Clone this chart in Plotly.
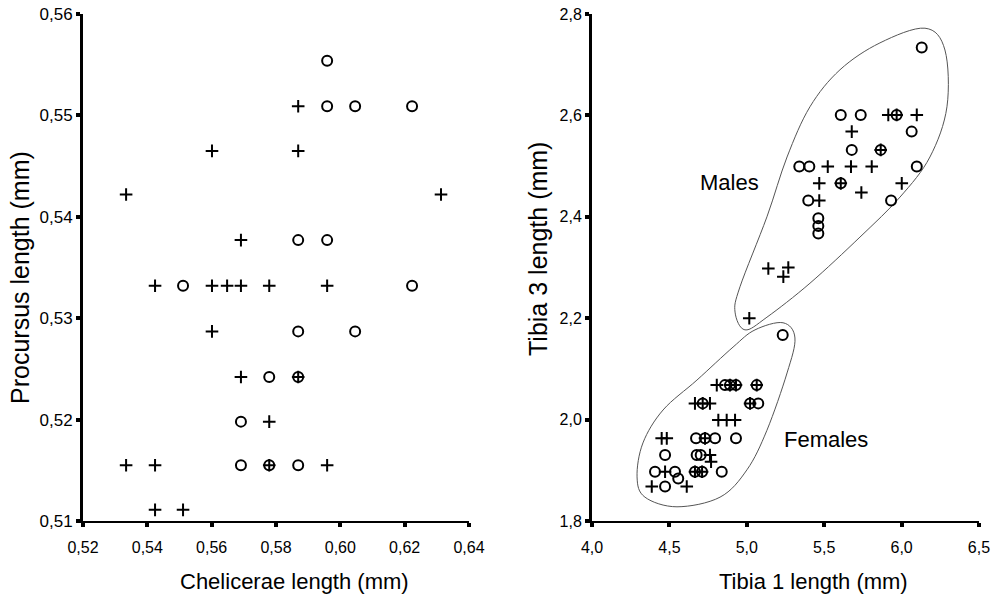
import plotly.graph_objects as go
from plotly.subplots import make_subplots

# ---------------- Left panel: Chelicerae vs Procursus ----------------
chel_circle = [0.5959, 0.5959, 0.6046, 0.6223, 0.5869, 0.5959, 0.5511, 0.6223,
               0.5869, 0.6046, 0.5779, 0.5869, 0.5691, 0.5691, 0.5779, 0.5869]
proc_circle = [0.5554, 0.5509, 0.5509, 0.5509, 0.5377, 0.5377, 0.5332, 0.5332,
               0.5287, 0.5287, 0.5242, 0.5242, 0.5198, 0.5155, 0.5155, 0.5155]

chel_cross = [0.5869, 0.5601, 0.5869, 0.5334, 0.6313, 0.5691,
              0.5424, 0.5601, 0.5648, 0.5691, 0.5779, 0.5959,
              0.5601, 0.5691, 0.5869, 0.5779,
              0.5334, 0.5424, 0.5779, 0.5959, 0.5424, 0.5511]
proc_cross = [0.5509, 0.5465, 0.5465, 0.5422, 0.5422, 0.5377,
              0.5332, 0.5332, 0.5332, 0.5332, 0.5332, 0.5332,
              0.5287, 0.5242, 0.5242, 0.5198,
              0.5155, 0.5155, 0.5155, 0.5155, 0.5111, 0.5111]

# ---------------- Right panel: Tibia 1 vs Tibia 3 ----------------
tib1_circle = [6.130, 5.607, 5.736, 5.968, 6.065, 5.678, 5.865, 5.339, 5.404, 6.098,
               5.607, 5.397, 5.932, 5.462, 5.462, 5.462,
               5.232, 4.859, 4.891, 4.930, 5.064, 4.715, 5.021, 5.074, 4.672, 4.730,
               4.795, 4.930, 4.472, 4.676, 4.702, 4.407, 4.536, 4.665, 4.711, 4.838,
               4.557, 4.472]
tib3_circle = [2.734, 2.601, 2.601, 2.601, 2.568, 2.532, 2.532, 2.499, 2.499, 2.499,
               2.466, 2.432, 2.432, 2.397, 2.382, 2.367,
               2.167, 2.068, 2.068, 2.068, 2.068, 2.032, 2.032, 2.032, 1.963, 1.963,
               1.963, 1.963, 1.930, 1.930, 1.930, 1.897, 1.897, 1.897, 1.897, 1.897,
               1.884, 1.868]

tib1_cross = [5.914, 5.968, 6.098, 5.678, 5.865, 5.523, 5.673, 5.807, 5.468, 5.607,
              6.001, 5.740, 5.468, 5.139, 5.268, 5.236, 5.016,
              4.806, 4.891, 4.930, 5.064, 4.665, 4.715, 4.762, 5.021, 4.816, 4.870,
              4.924, 4.450, 4.483, 4.730, 4.762, 4.769, 4.472, 4.665, 4.711, 4.386,
              4.612]
tib3_cross = [2.601, 2.601, 2.601, 2.568, 2.532, 2.499, 2.499, 2.499, 2.466, 2.466,
              2.466, 2.448, 2.432, 2.298, 2.300, 2.282, 2.200,
              2.068, 2.068, 2.068, 2.068, 2.032, 2.032, 2.032, 2.032, 1.999, 1.999,
              1.999, 1.963, 1.963, 1.963, 1.930, 1.917, 1.897, 1.897, 1.897, 1.868,
              1.868]

# group outlines (hand-drawn enclosures)
male_outline_x = [6.151, 6.280, 6.293, 6.183, 5.990, 5.731, 5.408, 5.130,
                  4.988, 4.924, 4.956, 5.130, 5.260, 5.408, 5.602, 5.860]
male_outline_y = [2.772, 2.729, 2.617, 2.518, 2.439, 2.360, 2.269, 2.202,
                  2.177, 2.212, 2.262, 2.400, 2.518, 2.617, 2.690, 2.743]
female_outline_x = [5.234, 5.311, 5.260, 5.130, 5.001, 4.827, 4.549,
                    4.342, 4.291, 4.329, 4.459, 4.678, 4.911, 5.053]
female_outline_y = [2.191, 2.161, 2.092, 1.979, 1.901, 1.847, 1.828,
                    1.847, 1.887, 1.954, 2.019, 2.078, 2.143, 2.177]

group_labels = ["Males", "Females"]
group_label_x = [4.885, 5.512]
group_label_y = [2.467, 1.960]

left_xticks = [0.52, 0.54, 0.56, 0.58, 0.60, 0.62, 0.64]
left_yticks = [0.51, 0.52, 0.53, 0.54, 0.55, 0.56]
right_xticks = [4.0, 4.5, 5.0, 5.5, 6.0, 6.5]
right_yticks = [1.8, 2.0, 2.2, 2.4, 2.6, 2.8]

axis_titles = ["Chelicerae length (mm)", "Procursus length (mm)",
               "Tibia 1 length (mm)", "Tibia 3 length (mm)"]


def closed_spline(xs, ys):
    n = len(xs)
    p = list(zip(xs, ys))
    s = f"M {p[0][0]},{p[0][1]}"
    for i in range(n):
        p0 = p[(i - 1) % n]
        p1 = p[i]
        p2 = p[(i + 1) % n]
        p3 = p[(i + 2) % n]
        c1 = (p1[0] + (p2[0] - p0[0]) / 6, p1[1] + (p2[1] - p0[1]) / 6)
        c2 = (p2[0] - (p3[0] - p1[0]) / 6, p2[1] - (p3[1] - p1[1]) / 6)
        s += f" C {c1[0]},{c1[1]} {c2[0]},{c2[1]} {p2[0]},{p2[1]}"
    return s + " Z"


fig = make_subplots(rows=1, cols=2, horizontal_spacing=0.1373)

circ = dict(symbol="circle-open", size=10, color="black", line=dict(width=2, color="black"))
cross = dict(symbol="cross-thin-open", size=9, color="black", line=dict(width=2, color="black"))

fig.add_trace(go.Scatter(x=chel_circle, y=proc_circle, mode="markers", marker=circ,
                         showlegend=False), row=1, col=1)
fig.add_trace(go.Scatter(x=chel_cross, y=proc_cross, mode="markers", marker=cross,
                         showlegend=False), row=1, col=1)
fig.add_trace(go.Scatter(x=tib1_circle, y=tib3_circle, mode="markers", marker=circ,
                         showlegend=False), row=1, col=2)
fig.add_trace(go.Scatter(x=tib1_cross, y=tib3_cross, mode="markers", marker=cross,
                         showlegend=False), row=1, col=2)

for ox, oy in [(male_outline_x, male_outline_y), (female_outline_x, female_outline_y)]:
    fig.add_shape(type="path", path=closed_spline(ox, oy), xref="x2", yref="y2",
                  line=dict(color="#555555", width=1), layer="below")

for t, x, y in zip(group_labels, group_label_x, group_label_y):
    fig.add_annotation(x=x, y=y, xref="x2", yref="y2", text=t, showarrow=False,
                       font=dict(family="Liberation Sans, Arial", size=22, color="black"))

hfont = dict(family="Liberation Sans, Arial", size=22, color="black")
vfont = dict(family="Liberation Sans, Arial", size=25, color="black")
title_pos = [(0.2355, -0.1203, 0, hfont), (-0.0703, 0.4793, -90, vfont),
             (0.8158, -0.1203, 0, hfont), (0.5078, 0.5365, -90, vfont)]
for t, (px, py, ang, f) in zip(axis_titles, title_pos):
    fig.add_annotation(x=px, y=py, xref="paper", yref="paper", text=t, showarrow=False,
                       textangle=ang, xanchor="center", yanchor="middle", font=f)

xtickfont = dict(family="Liberation Sans, Arial", size=16, color="black")
ytickfont = dict(family="Liberation Sans, Arial", size=16, color="black")
axis_common = dict(showline=True, linecolor="black", showgrid=False, zeroline=False,
                   ticks="outside", ticklen=4, tickwidth=4, tickcolor="black",
                   mirror=False, automargin=False)

fig.update_xaxes(axis_common, linewidth=2, tickfont=xtickfont, ticklabelstandoff=7)
fig.update_yaxes(axis_common, linewidth=3, tickfont=ytickfont)

fig.update_xaxes(range=[0.52, 0.64], tickvals=left_xticks, tickformat=".2f",
                 domain=[0, 0.4308], row=1, col=1)
fig.update_yaxes(range=[0.51, 0.56], tickvals=left_yticks, tickformat=".2f",
                 tickfont=dict(size=17), row=1, col=1)
fig.update_xaxes(range=[4.0, 6.5], tickvals=right_xticks, tickformat=".1f",
                 domain=[0.5681, 1], row=1, col=2)
fig.update_yaxes(range=[1.8, 2.8], tickvals=right_yticks, tickformat=".1f",
                 row=1, col=2)

fig.update_layout(width=992, height=596, margin=dict(l=83, r=13, t=14, b=75),
                  paper_bgcolor="white", plot_bgcolor="white", separators=",.",
                  font=dict(family="Liberation Sans, Arial", color="black"))

fig.write_html("out.html")
